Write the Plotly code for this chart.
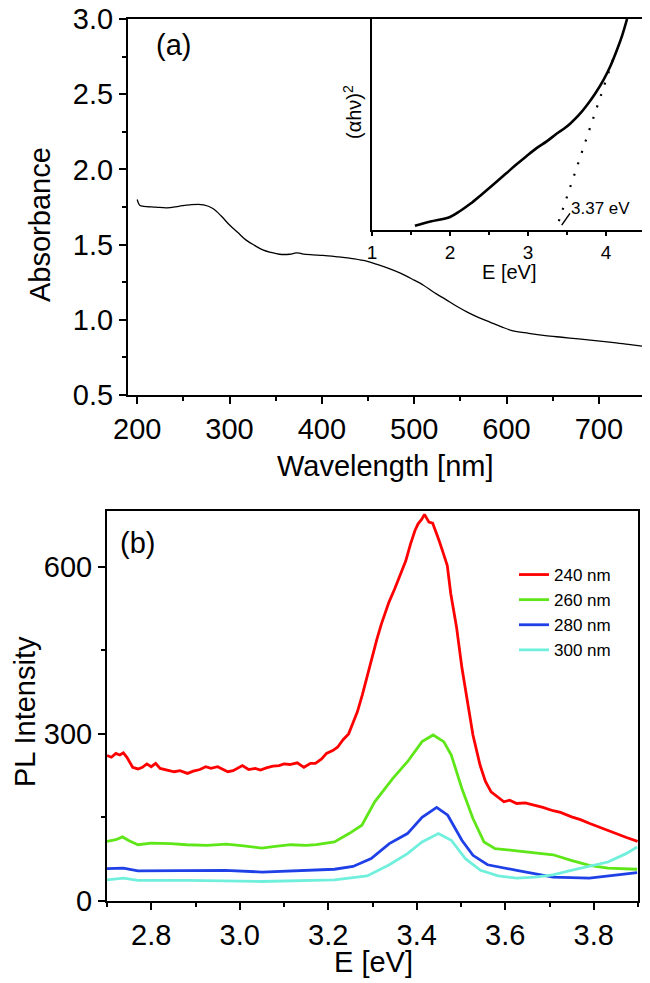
import plotly.graph_objects as go

# panel (a): UV-vis absorbance
wavelength = [200, 201, 203, 207, 220, 232, 245, 257, 272, 282, 291, 300, 309, 318, 327, 336,
              345, 354, 365, 372, 376, 380, 390, 401, 415, 430, 445, 459, 473, 485, 498, 510,
              522, 534, 546, 558, 570, 582, 594, 606, 624, 642, 660, 678, 696, 714, 732, 750]
absorbance = [1.80, 1.78, 1.76, 1.755, 1.75, 1.745, 1.755, 1.765, 1.765, 1.74, 1.69, 1.63, 1.58,
              1.53, 1.495, 1.465, 1.448, 1.436, 1.436, 1.445, 1.443, 1.437, 1.432, 1.428, 1.42,
              1.41, 1.395, 1.37, 1.34, 1.31, 1.27, 1.23, 1.18, 1.136, 1.09, 1.05, 1.015, 0.985,
              0.955, 0.928, 0.91, 0.895, 0.884, 0.873, 0.862, 0.85, 0.836, 0.822]

# inset: Tauc plot
tauc_e = [1.55, 1.75, 2.0, 2.13, 2.26, 2.41, 2.56, 2.71, 2.85, 2.98, 3.11, 3.24, 3.37, 3.46,
          3.54, 3.65, 3.75, 3.86, 3.97, 4.06, 4.14, 4.21, 4.27]
tauc_y = [0.02, 0.04, 0.062, 0.09, 0.124, 0.17, 0.217, 0.265, 0.31, 0.35, 0.388, 0.42, 0.457,
          0.48, 0.504, 0.544, 0.589, 0.646, 0.713, 0.78, 0.853, 0.925, 1.0]
fit_e = [3.395, 4.115]
fit_y = [0.042, 0.837]

# panel (b): PL spectra
e_240 = [2.70, 2.71, 2.72, 2.729, 2.737, 2.745, 2.758, 2.77, 2.78, 2.79, 2.80, 2.81, 2.82, 2.83,
         2.841, 2.852, 2.865, 2.882, 2.895, 2.91, 2.923, 2.935, 2.95, 2.965, 2.973, 2.985, 3.0,
         3.006, 3.02, 3.035, 3.047, 3.06, 3.075, 3.089, 3.10, 3.113, 3.13, 3.145, 3.16, 3.171,
         3.185, 3.196, 3.21, 3.221, 3.234, 3.246, 3.256, 3.266, 3.277, 3.287, 3.299, 3.31, 3.32,
         3.33, 3.337, 3.35, 3.361, 3.375, 3.386, 3.396, 3.403, 3.411, 3.4175, 3.4235, 3.4275,
         3.436, 3.44, 3.45, 3.4605, 3.469, 3.477, 3.49, 3.502, 3.515, 3.527, 3.543, 3.555, 3.568,
         3.58, 3.597, 3.61, 3.626, 3.645, 3.667, 3.685, 3.708, 3.725, 3.75, 3.77, 3.791, 3.81,
         3.8325, 3.85, 3.874, 3.899]
pl_240 = [261, 258, 265, 262, 266, 258, 240, 237, 240, 246, 241, 247, 238, 236, 233, 232, 234,
          229, 233, 236, 241, 238, 241, 236, 232, 234, 240, 243, 236, 238, 235, 239, 242, 243,
          246, 245, 248, 240, 247, 247, 255, 265, 270, 276, 290, 300, 320, 340, 370, 400, 440,
          470, 497, 520, 536, 560, 581, 610, 641, 665, 677, 685, 694, 684, 680, 678, 670, 648,
          623, 602, 551, 491, 419, 360, 298, 244, 215, 196, 188, 178, 181, 175, 176, 172, 168,
          162, 159, 151, 146, 139, 133, 127, 121, 114, 107]

e_260 = [2.70, 2.72, 2.735, 2.75, 2.77, 2.80, 2.844, 2.88, 2.926, 2.97, 3.009, 3.05, 3.08,
         3.116, 3.15, 3.173, 3.214, 3.247, 3.276, 3.305, 3.346, 3.379, 3.412, 3.437, 3.461,
         3.478, 3.502, 3.527, 3.552, 3.577, 3.626, 3.683, 3.708, 3.749, 3.79, 3.832, 3.898]
pl_260 = [107, 110, 115, 108, 101, 104, 103, 101, 100, 102, 99, 95, 98, 101, 100, 101, 106,
          121, 136, 178, 220, 250, 286, 298, 286, 262, 202, 148, 106, 94, 90, 86, 83, 73, 64,
          59, 57]

e_280 = [2.70, 2.737, 2.77, 2.885, 2.967, 3.05, 3.132, 3.214, 3.256, 3.297, 3.338, 3.379,
         3.412, 3.445, 3.47, 3.502, 3.527, 3.56, 3.626, 3.675, 3.708, 3.79, 3.832, 3.898]
pl_280 = [58, 59, 54, 55, 55, 52, 55, 57, 62, 76, 103, 121, 150, 168, 154, 109, 82, 65, 55,
          47, 43, 41, 45, 51]

e_300 = [2.70, 2.737, 2.77, 2.885, 3.05, 3.132, 3.214, 3.288, 3.338, 3.379, 3.412, 3.449,
         3.478, 3.51, 3.544, 3.584, 3.626, 3.667, 3.708, 3.749, 3.79, 3.832, 3.873, 3.898]
pl_300 = [38, 41, 37, 37, 35, 37, 38, 45, 65, 85, 106, 121, 109, 76, 55, 45, 41, 43, 47, 55,
          63, 70, 85, 97]

series = [("240 nm", e_240, pl_240, "#ff0000"),
          ("260 nm", e_260, pl_260, "#5ee619"),
          ("280 nm", e_280, pl_280, "#1f40e6"),
          ("300 nm", e_300, pl_300, "#70f0dc")]

# the page body keeps its default 8px margin, so the figure is 8px smaller
# and all pixel positions below are page pixels shifted by that offset
OFF = 8
W, H = 650 - OFF, 983 - OFF
FONT = "Liberation Sans, Arial, sans-serif"
TOP_A = 19  # top of panel (a) / inset, leaves room for the "3.0" label


def px(x):
    return (x - OFF) / W


def py(y):
    return 1 - (y - OFF) / H


fig = go.Figure()
fig.add_trace(go.Scatter(x=wavelength, y=absorbance, mode="lines", line=dict(color="black", width=1.3, shape="spline"),
                         xaxis="x", yaxis="y", showlegend=False))
fig.add_trace(go.Scatter(x=tauc_e, y=tauc_y, mode="lines", line=dict(color="black", width=2.6, shape="spline"),
                         xaxis="x3", yaxis="y3", showlegend=False))
fig.add_trace(go.Scatter(x=fit_e, y=fit_y, mode="lines", line=dict(color="black", width=2.2, dash="2px,10px"),
                         xaxis="x3", yaxis="y3", showlegend=False))
for name, e, pl, color in series:
    fig.add_trace(go.Scatter(x=e, y=pl, mode="lines", name=name, line=dict(color=color, width=2.8),
                             xaxis="x2", yaxis="y2"))

axis_common = dict(showline=True, linecolor="black", linewidth=2, mirror=True, showgrid=False,
                   zeroline=False, ticks="outside", tickwidth=2, ticklen=7, tickcolor="black",
                   automargin=False, ticklabeloverflow="allow", tickfont=dict(size=29, color="black"))
minor_common = dict(ticks="outside", ticklen=4, tickwidth=2, tickcolor="black")

fig.update_layout(
    width=W, height=H, margin=dict(l=0, r=0, t=0, b=0),
    paper_bgcolor="white", plot_bgcolor="white",
    font=dict(family=FONT, color="black"),
    xaxis=dict(axis_common, domain=[px(128), px(645)], range=[190, 750], dtick=100, tick0=200,
               minor=dict(minor_common, dtick=50), anchor="y"),
    yaxis=dict(axis_common, domain=[py(395), py(TOP_A)], range=[0.5, 3.0005], dtick=0.5, tick0=0.5,
               tickformat=".1f", minor=dict(minor_common, dtick=0.25), anchor="x"),
    xaxis2=dict(axis_common, domain=[px(107), px(638)], range=[2.7, 3.9], dtick=0.2, tick0=2.8,
                tickformat=".1f", minor=dict(minor_common, dtick=0.1), anchor="y2"),
    yaxis2=dict(axis_common, domain=[py(901), py(511)], range=[0, 700], dtick=300,
                minor=dict(minor_common, dtick=150), anchor="x2"),
    xaxis3=dict(axis_common, domain=[px(372), px(645)], range=[1, 4.5], dtick=1, ticklen=4,
                tickfont=dict(size=19, color="black"),
                minor=dict(minor_common, dtick=0.5, ticklen=3), anchor="y3"),
    yaxis3=dict(axis_common, domain=[py(230), py(TOP_A)], range=[0, 1], ticks="", showticklabels=False,
                anchor="x3"),
    legend=dict(x=px(514), y=py(557), xanchor="left", yanchor="top", bgcolor="rgba(0,0,0,0)",
                font=dict(size=17, color="black"), tracegroupgap=0),
)

fig.add_shape(type="line", xref="x3", yref="y3", x0=3.432, y0=0.023, x1=3.538, y1=0.079,
              line=dict(color="black", width=1.5))


def label(text, x, y, size, angle=0, anchor="center"):
    fig.add_annotation(text=text, x=px(x), y=py(y), xref="paper", yref="paper", showarrow=False,
                       textangle=angle, xanchor=anchor, yanchor="middle",
                       font=dict(size=size, color="black", family=FONT))


label("Absorbance", 40, 225, 29, angle=-90)
label("Wavelength [nm]", 386, 466, 29)
label("PL Intensity", 25, 712, 29, angle=-90)
label("E [eV]", 374, 962, 29)
label("(a)", 174, 45, 29)
label("(b)", 137, 543, 29)
label("E [eV]", 509, 272, 20)
label("(αhν)<sup>2</sup>", 352, 112, 20, angle=-90)
label("3.37 eV", 569, 209, 17, anchor="left")

fig.write_html("out.html")
